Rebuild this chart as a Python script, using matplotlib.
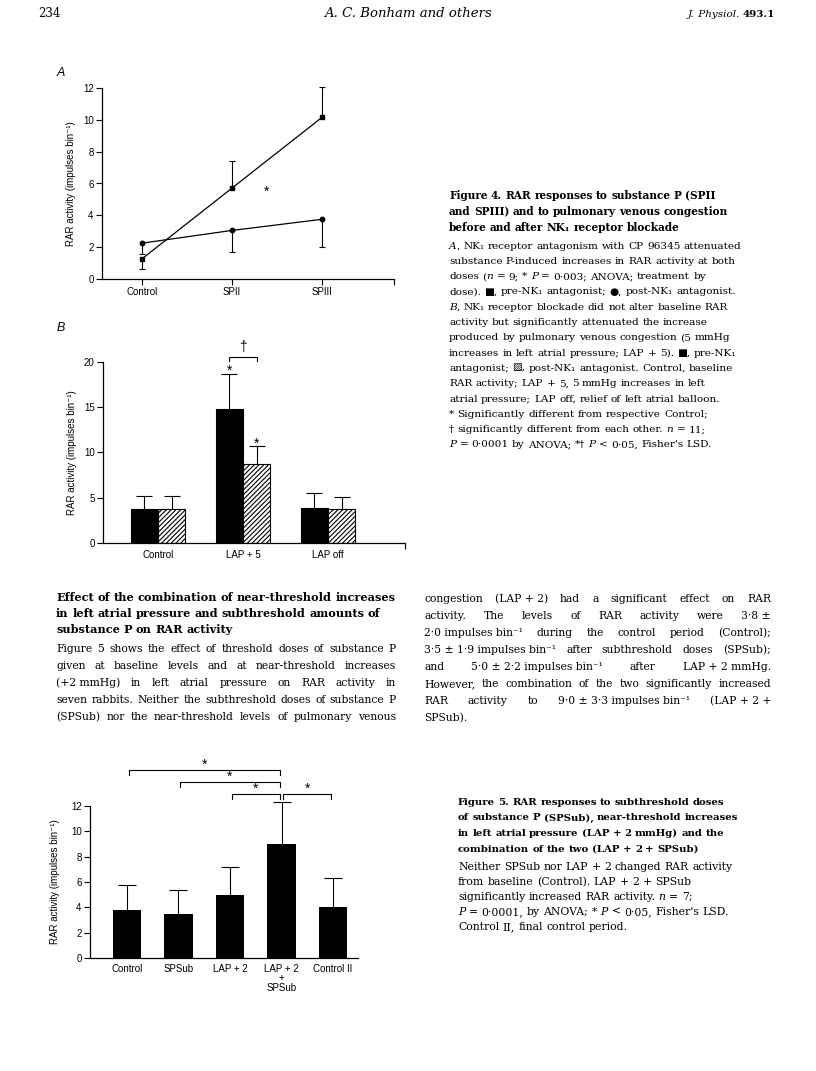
import numpy as np
import matplotlib
matplotlib.use('Agg')
import matplotlib.pyplot as plt

W, H, DPI = 816, 1071, 100
SANS = ['Liberation Sans', 'DejaVu Sans']
SERIF = ['DejaVu Serif', 'DejaVu Sans']

# Figure 4A: RAR activity before / after NK1 antagonist (line plot)
a_groups = ['Control', 'SPII', 'SPIII']
a_pre = [1.25, 5.7, 10.15]
a_pre_err = [-0.6, 1.7, 1.9]        # negative -> bar drawn downwards
a_post = [2.25, 3.05, 3.75]
a_post_err = [-0.65, -1.35, -1.75]

# Figure 4B: bars, pre (black) vs post (hatched) antagonist
b_groups = ['Control', 'LAP + 5', 'LAP off']
b_pre = [3.8, 14.8, 3.9]
b_pre_err = [1.4, 3.9, 1.6]
b_post = [3.8, 8.7, 3.8]
b_post_err = [1.4, 2.0, 1.3]

# Figure 5
f5_groups = ['Control', 'SPSub', 'LAP + 2', 'LAP + 2\n+\nSPSub', 'Control II']
f5_mean = [3.8, 3.5, 5.0, 9.0, 4.05]
f5_err = [2.0, 1.9, 2.2, 3.3, 2.25]
f5_pairs = [(0, 3), (1, 3), (2, 3), (3, 4)]

plt.rcParams['font.family'] = SANS
plt.rcParams['hatch.linewidth'] = 0.8
plt.rcParams['axes.linewidth'] = 0.9

fig = plt.figure(figsize=(W / DPI, H / DPI), dpi=DPI)
renderer = fig.canvas.get_renderer()


def px_axes(left, top, right, bottom):
    return fig.add_axes([left / W, 1 - bottom / H, (right - left) / W, (bottom - top) / H])


def style_axes(ax, pad=5):
    for side in ('top', 'right'):
        ax.spines[side].set_visible(False)
    ax.set_facecolor('none')
    ax.tick_params(direction='out', length=4, width=0.8, labelsize=7, pad=2)
    ax.set_ylabel('RAR activity (impulses bin⁻¹)', fontsize=7, labelpad=pad)


def one_sided_err(ax, x, y, e, cap):
    ends = np.asarray(y) + np.asarray(e)
    ax.vlines(x, y, ends, colors='k', lw=0.8, clip_on=False)
    ax.plot(x, ends, ls='none', marker='_', ms=cap, mew=0.8, color='k', clip_on=False)


def mark(ax, x, y, label, lift=3):
    ax.annotate(label, (x, y), xytext=(0, lift), textcoords='offset points',
                ha='center', va='center', fontsize=10, annotation_clip=False)


def bracket(ax, x1, x2, level, leg, label, lift):
    ax.plot([x1, x1, x2, x2], [level - leg, level, level, level - leg],
            color='k', lw=0.8, clip_on=False)
    mark(ax, (x1 + x2) / 2, level, label, lift)


# ---- panel A
axA = px_axes(102, 88, 394, 279)
style_axes(axA)
xa = np.arange(len(a_groups))
one_sided_err(axA, xa, a_pre, a_pre_err, 4.5)
one_sided_err(axA, xa, a_post, a_post_err, 4.5)
axA.plot(xa, a_pre, color='k', lw=0.9, marker='s', ms=3.5, clip_on=False)
axA.plot(xa, a_post, color='k', lw=0.9, marker='o', ms=3.2, clip_on=False)
axA.set_xlim(-0.44, 2.8)
axA.set_ylim(0, 12)
axA.set_yticks(range(0, 13, 2))
axA.set_xticks(xa, a_groups)
axA.set_xticks([2.8], minor=True)
axA.tick_params(axis='x', which='minor', direction='out', length=4, width=0.8)
mark(axA, 1.39, 5.2, '*')
fig.text(61 / W, 1 - 73 / H, 'A', fontsize=9, style='italic', ha='center', va='center')

# ---- panel B
axB = px_axes(103, 362, 405, 543)
style_axes(axB)
xb = np.arange(len(b_groups))
bw = 0.32
axB.bar(xb - bw / 2, b_pre, bw, color='k', edgecolor='k', lw=0.8)
axB.bar(xb + bw / 2, b_post, bw, color='white', edgecolor='k', hatch='///////', lw=0.8)
one_sided_err(axB, xb - bw / 2, b_pre, b_pre_err, 11)
one_sided_err(axB, xb + bw / 2, b_post, b_post_err, 11)
axB.set_xlim(-0.647, 2.906)
axB.set_ylim(0, 20)
axB.set_yticks(range(0, 21, 5))
axB.set_xticks(xb, b_groups)
axB.tick_params(axis='x', length=0, pad=5)
axB.set_xticks([2.906], minor=True)
axB.tick_params(axis='x', which='minor', direction='out', length=4, width=0.8)
mark(axB, 1 - bw / 2, b_pre[1] + b_pre_err[1], '*', 2)
mark(axB, 1 + bw / 2, b_post[1] + b_post_err[1], '*', 2)
bracket(axB, 1 - bw / 2, 1 + bw / 2, 20.55, 0.45, '†', 7)
fig.text(61 / W, 1 - 328 / H, 'B', fontsize=9, style='italic', ha='center', va='center')

# ---- figure 5
ax5 = px_axes(90, 806, 358, 958)
style_axes(ax5, pad=8)
x5 = np.arange(len(f5_groups))
ax5.bar(x5, f5_mean, 0.56, color='k')
one_sided_err(ax5, x5, f5_mean, f5_err, 13)
ax5.set_xlim(-0.718, 4.485)
ax5.set_ylim(0, 12)
ax5.set_yticks(range(0, 13, 2))
ax5.set_xticks(x5, f5_groups)
ax5.tick_params(axis='x', length=0, pad=4)
for lab in ax5.get_xticklabels():
    lab.set_linespacing(0.95)
for (i, j), lev in zip(f5_pairs, [14.85, 13.9, 12.95, 12.95]):
    bracket(ax5, i + 0.03, j - 0.03, lev, 0.4, '*', 4)


# ---- page text
# markup: words split on ' ', segments on '|', '~' = italic segment, '^' = bold segment
def put_line(x0, y, line, size, x1=None, weight='normal'):
    words = []
    for word in line.split(' '):
        segs = []
        for seg in word.split('|'):
            st, wt = 'normal', weight
            if seg.startswith('~'):
                st, seg = 'italic', seg[1:]
            if seg.startswith('^'):
                wt, seg = 'bold', seg[1:]
            t = fig.text(0, 0, seg, fontsize=size, family=SERIF,
                         style=st, weight=wt, ha='left', va='baseline')
            segs.append((t, t.get_window_extent(renderer).width))
        words.append(segs)
    widths = [sum(w for _, w in segs) for segs in words]
    gap = 0.32 * size * DPI / 72
    if x1 is not None and len(words) > 1:
        gap = (x1 - x0 - sum(widths)) / (len(words) - 1)
    x = x0
    for segs in words:
        for t, w in segs:
            t.set_position((x / W, 1 - y / H))
            x += w
        x += gap


def fit_size(line, target, weight='normal'):
    t = fig.text(0, 0, line.replace('~', '').replace('|', '').replace('^', ''),
                 fontsize=10, family=SERIF, weight=weight)
    w = t.get_window_extent(renderer).width
    t.remove()
    return 10 * target / w


def put_block(x0, y0, step, lines, size, x1=None, weight='normal', last=False):
    for k, line in enumerate(lines):
        just = x1 if (x1 is not None and (last or k < len(lines) - 1)) else None
        put_line(x0, y0 + k * step, line, size, just, weight)


# header
put_line(38, 17, '234', 8.5)
fig.text(408 / W, 1 - 17 / H, 'A. C. Bonham and others', fontsize=9.5, family=SERIF,
         style='italic', ha='center', va='baseline')
put_line(688, 17, '~J.|~\u00a0Physiol. ^493.1', 7.5)

fig4_title = [
    'Figure 4. RAR responses to substance P (SPII',
    'and SPIII) and to pulmonary venous congestion',
    'before and after NK₁ receptor blockade',
]
fig4_body = [
    '~A|, NK₁ receptor antagonism with CP 96345 attenuated',
    'substance P-induced increases in RAR activity at both',
    'doses (|~n = 9; * ~P = 0·003; ANOVA; treatment by',
    'dose). ■, pre-NK₁ antagonist; ●, post-NK₁ antagonist.',
    '~B|, NK₁ receptor blockade did not alter baseline RAR',
    'activity but significantly attenuated the increase',
    'produced by pulmonary venous congestion (5 mmHg',
    'increases in left atrial pressure; LAP + 5). ■, pre-NK₁',
    'antagonist; ▨, post-NK₁ antagonist. Control, baseline',
    'RAR activity; LAP + 5, 5 mmHg increases in left',
    'atrial pressure; LAP off, relief of left atrial balloon.',
    '* Significantly different from respective Control;',
    '† significantly different from each other. ~n = 11;',
    '~P = 0·0001 by ANOVA; *† ~P < 0·05, Fisher\'s LSD.',
]
cap_size = min(fit_size(fig4_body[0], 293), fit_size(fig4_body[3], 293),
               fit_size(fig4_body[7], 291))
title_size = (fit_size(fig4_title[0], 269, 'bold') + fit_size(fig4_title[1], 284, 'bold')) / 2
put_block(449, 199, 16, fig4_title, title_size, weight='bold')
put_block(449, 248.5, 15.3, fig4_body, cap_size)

sec_head = [
    'Effect of the combination of near-threshold increases',
    'in left atrial pressure and subthreshold amounts of',
    'substance P on RAR activity',
]
sec_left = [
    'Figure 5 shows the effect of threshold doses of substance P',
    'given at baseline levels and at near-threshold increases',
    '(+2\u00a0mmHg) in left atrial pressure on RAR activity in',
    'seven rabbits. Neither the subthreshold doses of substance P',
    '(SPSub) nor the near-threshold levels of pulmonary venous',
]
sec_right = [
    'congestion (LAP\u00a0+\u00a02) had a significant effect on RAR',
    'activity. The levels of RAR activity were 3·8\u00a0±',
    '2·0\u00a0impulses\u00a0bin⁻¹ during the control period (Control);',
    '3·5\u00a0±\u00a01·9\u00a0impulses\u00a0bin⁻¹ after subthreshold doses (SPSub);',
    'and 5·0\u00a0±\u00a02·2\u00a0impulses\u00a0bin⁻¹ after LAP\u00a0+\u00a02\u00a0mmHg.',
    'However, the combination of the two significantly increased',
    'RAR activity to 9·0\u00a0±\u00a03·3\u00a0impulses\u00a0bin⁻¹ (LAP\u00a0+\u00a02\u00a0+',
    'SPSub).',
]
body_size = min(fit_size(sec_left[3], 334), fit_size(sec_right[3], 341))
put_block(56, 601, 16, sec_head, fit_size(sec_head[0], 340, 'bold'), weight='bold')
put_block(56, 652, 17, sec_left, body_size, x1=396, last=True)
put_block(424, 602, 17, sec_right, body_size, x1=771)

fig5_title = [
    'Figure 5. RAR responses to subthreshold doses',
    'of substance P (SPSub), near-threshold increases',
    'in left atrial pressure (LAP + 2 mmHg) and the',
    'combination of the two (LAP + 2 + SPSub)',
]
fig5_body = [
    'Neither SPSub nor LAP + 2 changed RAR activity',
    'from baseline (Control). LAP + 2 + SPSub',
    'significantly increased RAR activity. ~n = 7;',
    '~P = 0·0001, by ANOVA; * ~P < 0·05, Fisher\'s LSD.',
    'Control II, final control period.',
]
f5_title_size = (fit_size(fig5_title[1], 280, 'bold') + fit_size(fig5_title[0], 274, 'bold')) / 2
f5_cap_size = min(fit_size(fig5_body[3], 281), fit_size(fig5_body[0], 276))
put_block(458, 805, 15.5, fig5_title, f5_title_size, weight='bold')
put_block(458, 870, 15, fig5_body, f5_cap_size)

fig.savefig('out.png', dpi=DPI, facecolor='white')
